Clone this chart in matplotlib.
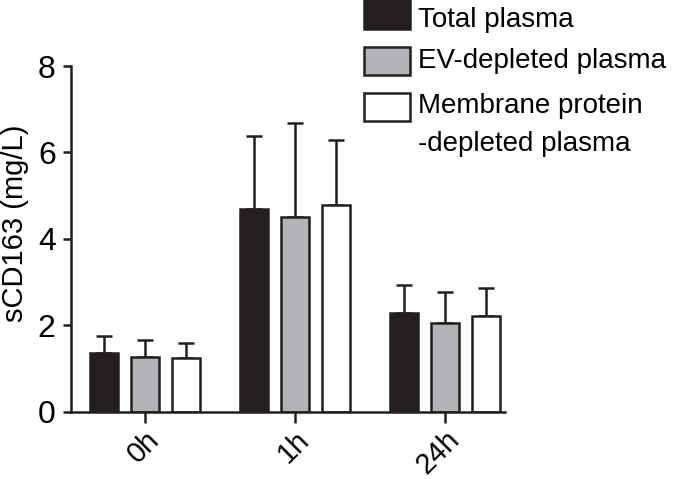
import matplotlib
matplotlib.use("Agg")
import matplotlib.pyplot as plt
from matplotlib.patches import Rectangle
import numpy as np

plt.rcParams['font.family'] = ['Liberation Sans', 'DejaVu Sans']

categories = ["0h", "1h", "24h"]
series_names = ["Total plasma", "EV-depleted plasma", "Membrane protein\n-depleted plasma"]
total_means = [1.36, 4.68, 2.29]
total_err = [0.38, 1.70, 0.64]
ev_means = [1.26, 4.50, 2.05]
ev_err = [0.40, 2.18, 0.71]
mem_means = [1.23, 4.78, 2.20]
mem_err = [0.35, 1.50, 0.66]
yticks = [0, 2, 4, 6, 8]

W, H = 675, 479
fig = plt.figure(figsize=(W / 100, H / 100), dpi=100)
L, R, B, T = 71, 505, 411.5, 66
ax = fig.add_axes([L / W, 1 - B / H, (R - L) / W, (B - T) / H])

dark = "#231f20"
colors = [dark, "#b1b3b6", "white"]
means = [total_means, ev_means, mem_means]
errs = [total_err, ev_err, mem_err]
x = np.arange(len(categories))
width = 0.19
offsets = [-0.273, 0, 0.273]
lw = 1.8
for m, e, c, o in zip(means, errs, colors, offsets):
    ax.bar(x + o, m, width, color=c, edgecolor=dark, linewidth=lw, zorder=2)
    ax.errorbar(x + o, m, yerr=[np.zeros(len(e)), e], fmt='none', ecolor=dark,
                elinewidth=lw, capsize=5.8, capthick=lw, zorder=1)

ax.set_xlim(-0.493, 2.4)
ax.set_ylim(0, 8)
ax.set_yticks(yticks)
ax.set_yticklabels([str(v) for v in yticks], fontsize=23)
ax.set_xticks(x)
ax.set_xticklabels(categories, fontsize=21, rotation=45, ha='right',
                   rotation_mode='anchor')
for s in ['top', 'right']:
    ax.spines[s].set_visible(False)
for s in ['left', 'bottom']:
    ax.spines[s].set_linewidth(lw)
    ax.spines[s].set_color(dark)
ax.tick_params(axis='y', length=6, width=lw, color=dark, pad=5)
ax.tick_params(axis='x', length=8, width=lw, color=dark, pad=2)

fig.text(15 / W, 1 - 223 / H, "sCD163 (mg/L)", rotation=90, fontsize=21,
         ha='center', va='center')

# legend
patch_tops = [0, 47, 93]
patch_bots = [29, 75, 121]
baselines = [27, 68, 113]
line_step = 38
for name, c, pt, pb, bl in zip(series_names, colors, patch_tops, patch_bots, baselines):
    fig.add_artist(Rectangle((364 / W, 1 - pb / H), 46 / W, (pb - pt) / H,
                             transform=fig.transFigure, facecolor=c,
                             edgecolor=dark, linewidth=lw))
    for i, line in enumerate(name.split("\n")):
        fig.text(418 / W, 1 - (bl + i * line_step) / H, line, fontsize=20,
                 ha='left', va='baseline')

fig.savefig("out.png", dpi=100)
